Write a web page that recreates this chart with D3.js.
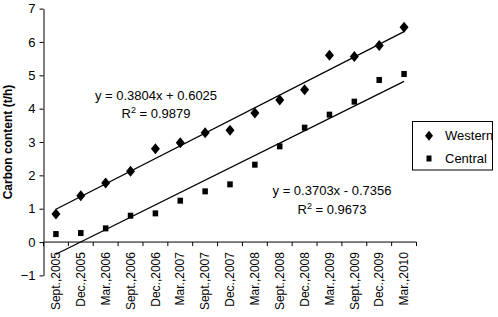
<!DOCTYPE html>
<html>
<head>
<meta charset="utf-8">
<script src="https://cdn.jsdelivr.net/npm/d3@7"></script>
<style>
  body { margin: 0; background: #fff; }
  svg { display: block; font-family: "Liberation Sans", Arial, sans-serif; }
</style>
</head>
<body>
<div id="chart"></div>
<script>
const CATEGORIES = ['Sept.,2005', 'Dec.,2005', 'Mar.,2006', 'Sept.,2006', 'Dec.,2006', 'Mar.,2007',
  'Sept.,2007', 'Dec.,2007', 'Mar.,2008', 'Sept.,2008', 'Dec.,2008', 'Mar.,2009',
  'Sept.,2009', 'Dec.,2009', 'Mar.,2010'];
const WESTERN = [0.84, 1.39, 1.77, 2.12, 2.80, 2.98, 3.28, 3.35, 3.87, 4.26, 4.57, 5.60, 5.56, 5.89, 6.44];
const CENTRAL = [0.24, 0.27, 0.41, 0.79, 0.86, 1.24, 1.52, 1.73, 2.32, 2.87, 3.43, 3.82, 4.21, 4.86, 5.04];
const TREND_WESTERN = [0.3804, 0.6025, 0.9879];
const TREND_CENTRAL = [0.3703, -0.7356, 0.9673];
const Y_TICKS = [-1, 0, 1, 2, 3, 4, 5, 6, 7];

const WIDTH = 498, HEIGHT = 317;

const svg = d3.select('#chart')
  .append('svg')
    .attr('width', WIDTH)
    .attr('height', HEIGHT);

const x = d3.scaleBand()
  .domain(CATEGORIES)
  .range([43.5, 416.5])
  .padding(0);

const y = d3.scaleLinear()
  .domain([-1, 7])
  .range([275.4, 8.6]);

const cx = d => x(d) + x.bandwidth() / 2;

// y axis
const yAxis = svg.append('g')
  .attr('transform', `translate(${x.range()[0]},0)`)
  .call(d3.axisLeft(y).tickValues(Y_TICKS).tickSize(4).tickPadding(4).tickSizeOuter(0));
yAxis.select('.domain').attr('stroke', '#000');
yAxis.selectAll('line').attr('stroke', '#000');
yAxis.selectAll('text')
  .attr('font-size', 13)
  .attr('font-family', '"Liberation Sans", Arial, sans-serif')
  .attr('fill', '#000');

// x axis at y = 0
const xAxis = svg.append('g')
  .attr('transform', `translate(0,${y(0)})`);
xAxis.append('line')
  .attr('x1', x.range()[0]).attr('x2', x.range()[1])
  .attr('y1', 0).attr('y2', 0)
  .attr('stroke', '#000');
xAxis.selectAll('line.tick')
  .data(CATEGORIES.map(d => x(d)).concat([x.range()[1]]))
  .enter()
  .append('line')
    .attr('class', 'tick')
    .attr('x1', d => d).attr('x2', d => d)
    .attr('y1', 0).attr('y2', 4)
    .attr('stroke', '#000');
xAxis.selectAll('text')
  .data(CATEGORIES)
  .enter()
  .append('text')
    .attr('transform', d => `translate(${cx(d)},${10}) rotate(-90)`)
    .attr('dy', '0.35em')
    .attr('text-anchor', 'end')
    .attr('font-size', 12)
    .attr('fill', '#000')
    .text(d => d);

// y axis title
svg.append('text')
  .attr('transform', `translate(12,${(y.range()[0] + y.range()[1]) / 2}) rotate(-90)`)
  .attr('text-anchor', 'middle')
  .attr('font-size', 12)
  .attr('font-weight', 'bold')
  .attr('fill', '#000')
  .text('Carbon content (t/h)');

// trend lines
const trendLine = d3.line()
  .x(d => cx(d.c))
  .y(d => y(d.v));
[TREND_WESTERN, TREND_CENTRAL].forEach(t => {
  const pts = [0, CATEGORIES.length - 1].map(i => ({ c: CATEGORIES[i], v: t[0] * (i + 1) + t[1] }));
  svg.append('path')
    .attr('d', trendLine(pts))
    .attr('fill', 'none')
    .attr('stroke', '#000')
    .attr('stroke-width', 1.3);
});

// markers
const diamond = (w, h) => `M0,${-h / 2}L${w / 2},0L0,${h / 2}L${-w / 2},0Z`;
svg.selectAll('path.western')
  .data(WESTERN)
  .enter()
  .append('path')
    .attr('class', 'western')
    .attr('d', diamond(9, 11))
    .attr('transform', (d, i) => `translate(${cx(CATEGORIES[i])},${y(d)})`)
    .attr('fill', '#000');
svg.selectAll('rect.central')
  .data(CENTRAL)
  .enter()
  .append('rect')
    .attr('class', 'central')
    .attr('x', (d, i) => cx(CATEGORIES[i]) - 2.75)
    .attr('y', d => y(d) - 3)
    .attr('width', 5.5)
    .attr('height', 6)
    .attr('fill', '#000');

// equations
function equation(t, px, py) {
  const sign = t[1] < 0 ? '-' : '+';
  svg.append('text')
    .attr('x', px).attr('y', py)
    .attr('text-anchor', 'middle')
    .attr('font-size', 13)
    .attr('fill', '#000')
    .text(`y = ${t[0].toFixed(4)}x ${sign} ${Math.abs(t[1]).toFixed(4)}`);
  const r = svg.append('text')
    .attr('x', px).attr('y', py + 18.5)
    .attr('text-anchor', 'middle')
    .attr('font-size', 13)
    .attr('fill', '#000');
  r.append('tspan').text('R');
  r.append('tspan').attr('font-size', 9).attr('dy', -5).text('2');
  r.append('tspan').attr('dy', 5).text(` = ${t[2].toFixed(4)}`);
}
equation(TREND_WESTERN, 156, 99.5);
equation(TREND_CENTRAL, 332, 195);

// legend
const legend = svg.append('g');
legend.append('rect')
  .attr('x', 412.5).attr('y', 121.5)
  .attr('width', 80).attr('height', 48.5)
  .attr('fill', '#fff')
  .attr('stroke', '#000');
legend.append('path')
  .attr('d', diamond(8, 10))
  .attr('transform', 'translate(429,135.7)')
  .attr('fill', '#000');
legend.append('rect')
  .attr('x', 426.5).attr('y', 155.5)
  .attr('width', 5).attr('height', 6)
  .attr('fill', '#000');
legend.selectAll('text.leg')
  .data(['Western', 'Central'])
  .enter()
  .append('text')
    .attr('class', 'leg')
    .attr('x', 445)
    .attr('y', (d, i) => 140.3 + i * 22.6)
    .attr('font-size', 13)
    .attr('fill', '#000')
    .text(d => d);
</script>
</body>
</html>
